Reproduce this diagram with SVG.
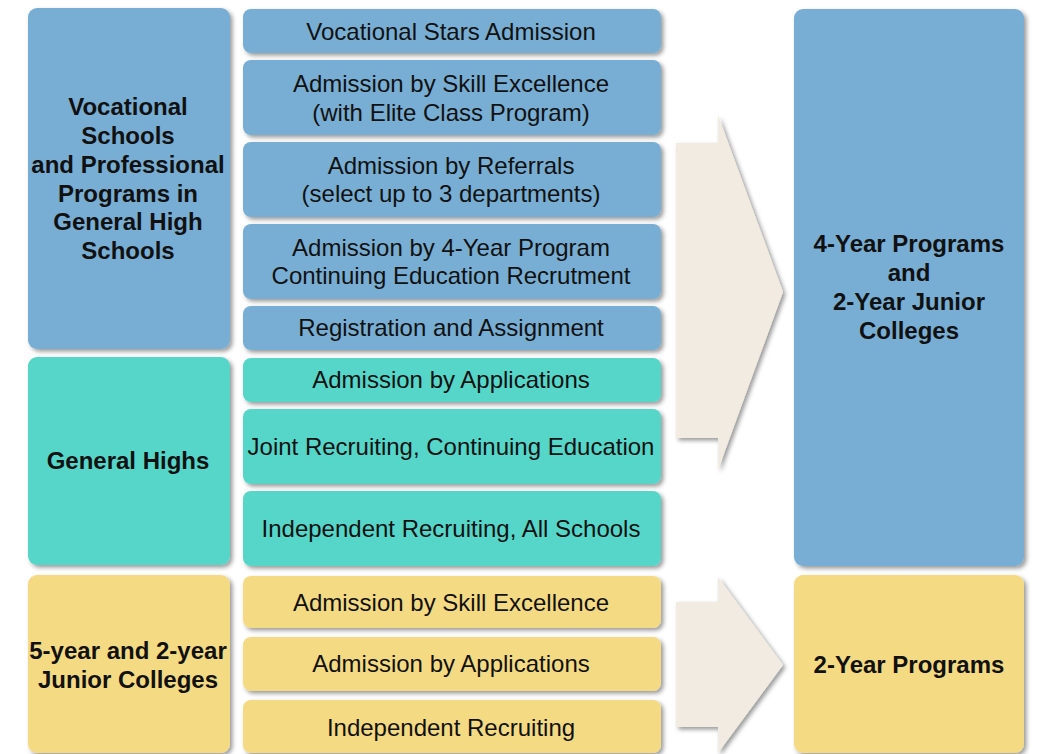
<svg xmlns="http://www.w3.org/2000/svg" width="1041" height="754" viewBox="0 0 1041 754">
<defs>
<filter id="sh" x="-10%" y="-10%" width="130%" height="130%">
<feDropShadow dx="2.5" dy="2.5" stdDeviation="2" flood-color="#000" flood-opacity="0.4"/>
</filter>
<style>
.b{fill:#78aed3;filter:url(#sh)}
.t{fill:#55d6c9;filter:url(#sh)}
.y{fill:#f5da84;filter:url(#sh)}
.a{fill:#f2ebe1;filter:url(#sh)}
text{font-family:"Liberation Sans",Arial,sans-serif;font-size:24px;fill:#111;text-anchor:middle}
.h{font-weight:bold}
</style>
</defs>
<rect width="1041" height="754" fill="#fff"/>
<g id="connectors">
<path class="a" d="M676,143 L718,143 L718,115 L783,292 L718,470 L718,438 L676,438 Z"/>
<path class="a" d="M676,602 L718,602 L718,577 L783,665 L718,753 L718,727 L676,727 Z"/>
</g>
<g id="vocational-schools"><rect class="b" x="28" y="8" width="202" height="341" rx="9"/>
<text class="h" x="128" y="115">Vocational</text><text class="h" x="128" y="144">Schools</text><text class="h" x="128" y="173">and Professional</text><text class="h" x="128" y="202">Programs in</text><text class="h" x="128" y="230">General High</text><text class="h" x="128" y="259">Schools</text></g>
<g id="general-highs"><rect class="t" x="28" y="357" width="202" height="208" rx="9"/><text class="h" x="128" y="469">General Highs</text></g>
<g id="junior-colleges"><rect class="y" x="28" y="575" width="202" height="178" rx="9"/><text class="h" x="128" y="659">5-year and 2-year</text><text class="h" x="128" y="688">Junior Colleges</text></g>
<g id="vocational-stars"><rect class="b" x="243" y="9" width="418" height="44" rx="8"/><text x="451" y="40">Vocational Stars Admission</text></g>
<g id="skill-excellence-elite"><rect class="b" x="243" y="60" width="418" height="75" rx="8"/><text x="451" y="92">Admission by Skill Excellence</text><text x="451" y="121">(with Elite Class Program)</text></g>
<g id="referrals"><rect class="b" x="243" y="142" width="418" height="75" rx="8"/><text x="451" y="174">Admission by Referrals</text><text x="451" y="202">(select up to 3 departments)</text></g>
<g id="four-year-continuing"><rect class="b" x="243" y="224" width="418" height="75" rx="8"/><text x="451" y="256">Admission by 4-Year Program</text><text x="451" y="284">Continuing Education Recrutment</text></g>
<g id="registration"><rect class="b" x="243" y="306" width="418" height="44" rx="8"/><text x="451" y="336">Registration and Assignment</text></g>
<g id="applications-gh"><rect class="t" x="243" y="358" width="418" height="44" rx="8"/><text x="451" y="388">Admission by Applications</text></g>
<g id="joint-recruiting"><rect class="t" x="243" y="409" width="418" height="75" rx="8"/><text x="451" y="455">Joint Recruiting, Continuing Education</text></g>
<g id="independent-all"><rect class="t" x="243" y="491" width="418" height="75" rx="8"/><text x="451" y="537">Independent Recruiting, All Schools</text></g>
<g id="skill-excellence-jc"><rect class="y" x="243" y="576" width="418" height="52" rx="8"/><text x="451" y="611">Admission by Skill Excellence</text></g>
<g id="applications-jc"><rect class="y" x="243" y="637" width="418" height="54" rx="8"/><text x="451" y="672">Admission by Applications</text></g>
<g id="independent-jc"><rect class="y" x="243" y="700" width="418" height="53" rx="8"/><text x="451" y="736">Independent Recruiting</text></g>
<g id="four-year-programs"><rect class="b" x="794" y="9" width="230" height="557" rx="9"/><text class="h" x="909" y="252">4-Year Programs</text><text class="h" x="909" y="281">and</text><text class="h" x="909" y="310">2-Year Junior</text><text class="h" x="909" y="339">Colleges</text></g>
<g id="two-year-programs"><rect class="y" x="794" y="575" width="230" height="178" rx="9"/><text class="h" x="909" y="673">2-Year Programs</text></g>
</svg>
